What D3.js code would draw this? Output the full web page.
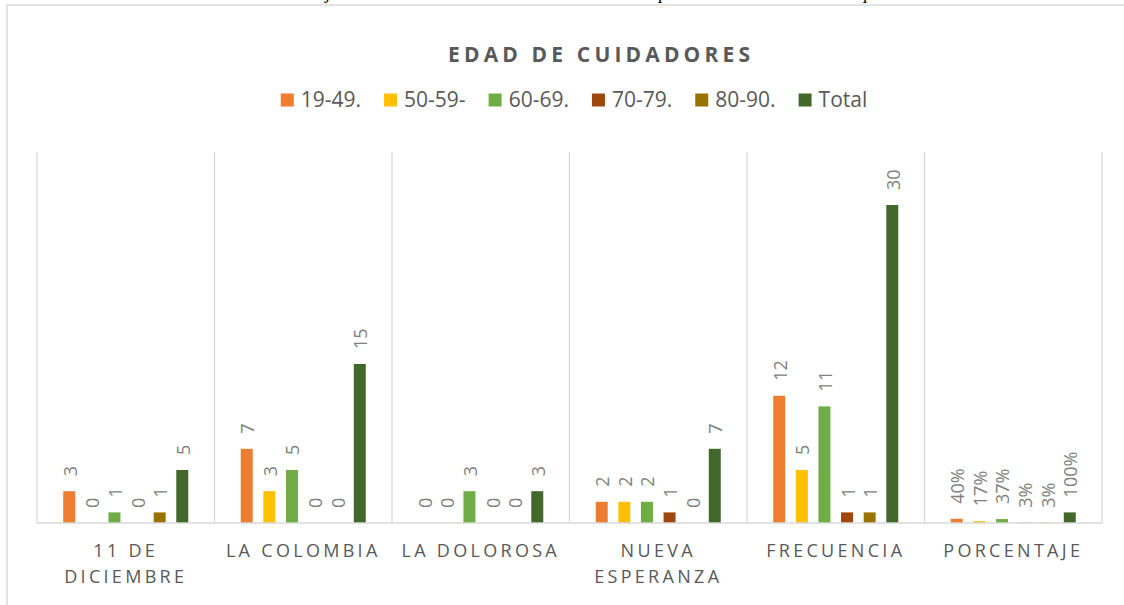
<!DOCTYPE html>
<html>
<head>
<meta charset="utf-8">
<script src="https://cdn.jsdelivr.net/npm/d3@7"></script>
<style>
  body { margin: 0; background: #fff; }
  svg { display: block; font-family: "Open Sans", sans-serif; }
</style>
</head>
<body>
<div id="chart"></div>
<script>
// data
var categories = ["11 DE DICIEMBRE", "LA COLOMBIA", "LA DOLOROSA", "NUEVA ESPERANZA", "FRECUENCIA", "PORCENTAJE"];
var seriesNames = ["19-49.", "50-59-", "60-69.", "70-79.", "80-90.", "Total"];
var s19_49 = [3, 7, 0, 2, 12, 0.40];
var s50_59 = [0, 3, 0, 2, 5, 0.17];
var s60_69 = [1, 5, 3, 2, 11, 0.37];
var s70_79 = [0, 0, 0, 1, 1, 0.03];
var s80_90 = [1, 0, 0, 0, 1, 0.03];
var sTotal = [5, 15, 3, 7, 30, 1.00];
var colors = ["#ED7D31", "#FFC000", "#70AD47", "#9E480E", "#997300", "#43682B"];

var seriesValues = [s19_49, s50_59, s60_69, s70_79, s80_90, sTotal];

var width = 1124, height = 605;
var plot = {left: 37, right: 1102, top: 152, bottom: 523};

var svg = d3.select("#chart").append("svg")
  .attr("width", width)
  .attr("height", height);

// descenders of the caption line above the chart (cut off by the shot)
var captionBits = [["j", 326], ["p", 659], ["p", 864]];
svg.append("g").selectAll("text")
  .data(captionBits)
  .enter().append("text")
    .attr("x", function(d) { return d[1]; })
    .attr("y", -1)
    .attr("font-family", "Liberation Serif, serif")
    .attr("font-style", "italic")
    .attr("font-size", 18)
    .attr("fill", "#000")
    .text(function(d) { return d[0]; });

// chart frame (runs off the right and bottom of the shot)
svg.append("rect")
  .attr("x", 7).attr("y", 5)
  .attr("width", 1300).attr("height", 700)
  .attr("fill", "none")
  .attr("stroke", "#d9d9d9")
  .attr("stroke-width", 1.5);

//scales
var x0 = d3.scaleBand()
  .domain(categories)
  .range([plot.left, plot.right])
  .padding(0);

var x1 = d3.scaleBand()
  .domain(seriesNames)
  .range([0, x0.bandwidth()])
  .paddingInner(0.47)
  .paddingOuter(1.16);

var y = d3.scaleLinear()
  .domain([0, 35])
  .range([plot.bottom, plot.top]);

//vertical gridlines between categories
var edges = categories.map(function(c) { return x0(c); }).concat([plot.right]);
svg.append("g").selectAll("line")
  .data(edges)
  .enter().append("line")
    .attr("x1", function(d) { return d; })
    .attr("x2", function(d) { return d; })
    .attr("y1", y(35))
    .attr("y2", y(0))
    .attr("stroke", "#d9d9d9")
    .attr("stroke-width", 1.3);

//bars + labels
var rows = [];
categories.forEach(function(c, i) {
  seriesNames.forEach(function(s, j) {
    rows.push({cat: c, series: s, value: seriesValues[j][i], color: colors[j], pct: c == "PORCENTAJE"});
  });
});

var groups = svg.append("g");
groups.selectAll(".bar")
  .data(rows)
  .enter().append("rect")
    .attr("class", "bar")
    .attr("x", function(d) { return x0(d.cat) + x1(d.series); })
    .attr("width", x1.bandwidth())
    .attr("y", function(d) { return y(d.value); })
    .attr("height", function(d) { return y(0) - y(d.value); })
    .attr("fill", function(d) { return d.color; });

var fmtInt = d3.format("d"), fmtPct = d3.format(".0%");
groups.selectAll(".lbl")
  .data(rows)
  .enter().append("text")
    .attr("class", "lbl")
    .attr("transform", function(d) {
      var cx = x0(d.cat) + x1(d.series) + x1.bandwidth() / 2 + 0.5;
      return "translate(" + cx + "," + (y(d.value) - 15) + ") rotate(-90)";
    })
    .attr("dominant-baseline", "central")
    .attr("text-anchor", "start")
    .attr("fill", "#7f7f7f")
    .attr("font-size", 18)
    .text(function(d) { return d.pct ? fmtPct(d.value) : fmtInt(d.value); });

//baseline
svg.append("line")
  .attr("x1", plot.left).attr("x2", plot.right)
  .attr("y1", y(0)).attr("y2", y(0))
  .attr("stroke", "#d9d9d9")
  .attr("stroke-width", 1.5);

//x axis labels
var axis = svg.append("g")
  .attr("transform", "translate(0," + y(0) + ")")
  .call(d3.axisBottom(x0).tickSize(0).tickPadding(0));
axis.select(".domain").remove();

var lsAxis = 3.3;
axis.selectAll(".tick text")
  .attr("fill", "#595959")
  .attr("font-family", "Open Sans, sans-serif")
  .attr("font-size", 18)
  .attr("letter-spacing", lsAxis)
  .attr("y", 0)
  .attr("dy", 0)
  .each(function(d) { wrap(d3.select(this), d, x0.bandwidth() - 6); });

function wrap(text, label, maxW) {
  var words = label.split(" "), lines = [], line = [];
  text.text(null);
  var probe = text.append("tspan");
  words.forEach(function(w) {
    line.push(w);
    probe.text(line.join(" "));
    if (probe.node().getComputedTextLength() > maxW && line.length > 1) {
      line.pop();
      lines.push(line.join(" "));
      line = [w];
    }
  });
  lines.push(line.join(" "));
  probe.remove();
  lines.forEach(function(l, i) {
    text.append("tspan")
      .attr("x", 0)
      .attr("y", 34 + i * 26)
      .text(l);
  });
}

//title
var title = svg.append("text")
  .attr("x", 448)
  .attr("y", 62)
  .attr("fill", "#595959")
  .attr("font-size", 21)
  .attr("font-weight", "bold")
  .text("EDAD DE CUIDADORES");
var tw = title.node().getComputedTextLength();
title.attr("letter-spacing", (302 - tw) / 17);

//legend
var legend = svg.append("g");
var items = legend.selectAll(".item")
  .data(seriesNames)
  .enter().append("g")
    .attr("class", "item");
items.append("rect")
  .attr("width", 13).attr("height", 13)
  .attr("y", 93.5)
  .attr("fill", function(d, i) { return colors[i]; });
items.append("text")
  .attr("x", 20)
  .attr("y", 107)
  .attr("fill", "#595959")
  .attr("font-size", 21)
  .text(function(d) { return d; });

var pos = 0, offsets = [];
items.each(function() {
  offsets.push(pos);
  pos += 20 + d3.select(this).select("text").node().getComputedTextLength() + 23;
});
var legendW = pos - 23;
var legendStart = 574 - legendW / 2;
items.attr("transform", function(d, i) { return "translate(" + (legendStart + offsets[i]) + ",0)"; });
</script>
</body>
</html>
